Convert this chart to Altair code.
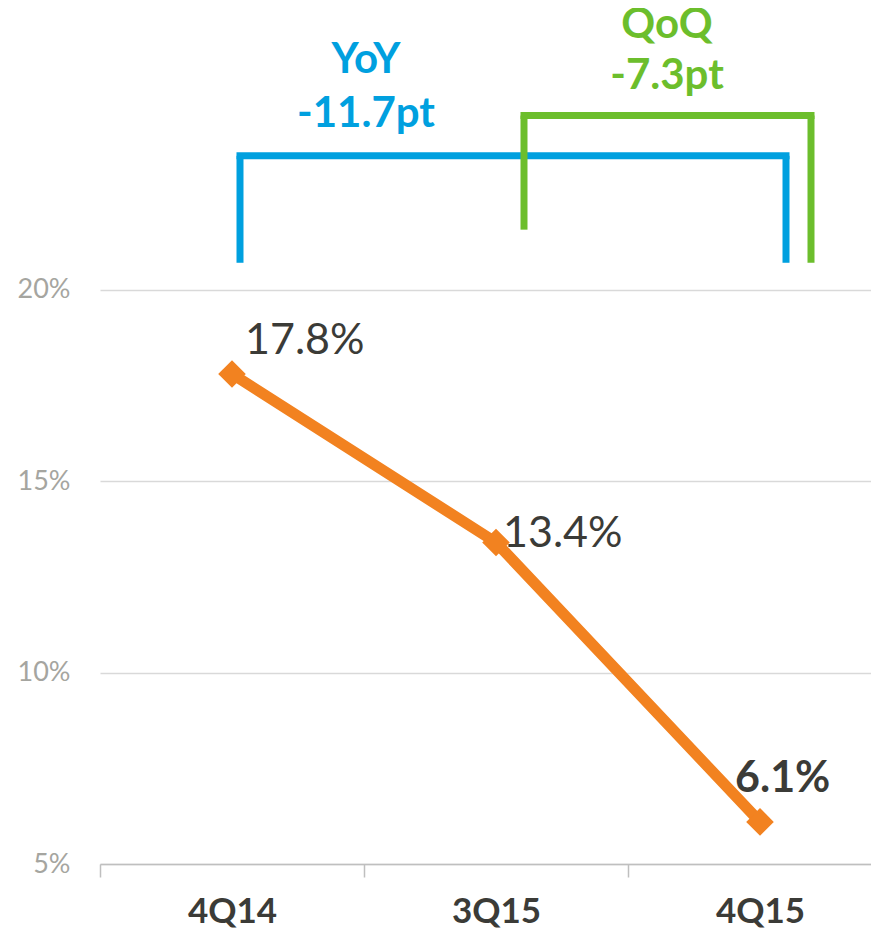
import altair as alt
import pandas as pd

# ---- data ----
quarters = ["4Q14", "3Q15", "4Q15"]
margin_pct = [17.8, 13.4, 6.1]
y_ticks = [5, 10, 15, 20]
compare_labels = ["YoY", "QoQ"]
compare_from = ["4Q14", "3Q15"]
compare_to = ["4Q15", "4Q15"]

df = pd.DataFrame({"q": quarters, "v": margin_pct})
df["label"] = [f"{v:.1f}%" for v in margin_pct]

last = margin_pct[-1]
deltas = [round(last - margin_pct[quarters.index(f)], 1) for f in compare_from]
br = pd.DataFrame({"name": compare_labels, "start": compare_from, "end": compare_to,
                   "delta": [f"{d:.1f}pt" for d in deltas]})

# ---- style ----
ORANGE = "#F28220"
BLUE = "#00A0DF"
GREEN = "#6CBE2C"
DARK = "#3B3B37"
GREYTXT = "#A5A5A0"
FONT = "Lato"

xscale = alt.Scale(type="band", domain=quarters, paddingInner=0, paddingOuter=0)
yscale = alt.Scale(domain=[5, 27.36], nice=False, zero=False)
xaxis = alt.Axis(title=None, tickBand="extent", domainColor="#BFBFBF", domainWidth=1.5,
                 tickColor="#BFBFBF", tickWidth=1.5, tickSize=13, labelFont=FONT,
                 labelFontWeight="bold", labelFontSize=35, labelColor=DARK,
                 labelPadding=17, grid=False, labelAngle=0)
yaxis = alt.Axis(title=None, values=y_ticks, labelExpr="datum.value + '%'", labelFont=FONT,
                 labelFontSize=27, labelColor=GREYTXT, labelPadding=30, domain=False,
                 ticks=False, grid=True, gridColor="#D9D9D9", gridWidth=1.5)


def X(field):
    return alt.X(field, scale=xscale, axis=xaxis, bandPosition=0.5)


def Y(field):
    return alt.Y(field, scale=yscale, axis=yaxis)


base = alt.Chart(df)
line = base.mark_line(color=ORANGE, strokeWidth=11).encode(x=X("q:N"), y=Y("v:Q"))
pts = base.mark_point(shape="diamond", filled=True, size=760, color=ORANGE, opacity=1).encode(
    x=X("q:N"), y=Y("v:Q"))


def label(q, dx, dy, weight):
    return base.transform_filter(alt.datum.q == q).mark_text(
        align="left", baseline="alphabetic", dx=dx, dy=dy, font=FONT, fontSize=43,
        fontWeight=weight, color=DARK).encode(x=X("q:N"), y=Y("v:Q"), text="label:N")


labels = [label("4Q14", 13, -20, "normal"), label("3Q15", 7, 5, "normal"),
          label("4Q15", -25, -30, "bold")]


def bracket(name, color, off_l, off_r, top, bot_l, bot_r, txt_dx, y_name, y_delta):
    b = alt.Chart(br).transform_filter(alt.datum.name == name)
    sw = 7
    left = b.mark_rule(color=color, strokeWidth=sw, xOffset=off_l, strokeCap="butt").encode(
        x=X("start:N"), y=alt.datum(bot_l), y2=alt.datum(top))
    right = b.mark_rule(color=color, strokeWidth=sw, xOffset=off_r, strokeCap="butt").encode(
        x=X("end:N"), y=alt.datum(bot_r), y2=alt.datum(top))
    horiz = b.mark_rule(color=color, strokeWidth=sw, xOffset=off_l, x2Offset=off_r,
                        strokeCap="square").encode(
        x=X("start:N"), x2=alt.X2("end:N"), y=alt.datum(top))
    t1 = b.mark_text(align="center", baseline="alphabetic", dx=txt_dx, font=FONT, fontSize=42,
                     fontWeight="bold", color=color).encode(
        x=X("start:N"), y=alt.datum(y_name), text="name:N")
    t2 = b.mark_text(align="center", baseline="alphabetic", dx=txt_dx, font=FONT, fontSize=42,
                     fontWeight="bold", color=color).encode(
        x=X("start:N"), y=alt.datum(y_delta), text="delta:N")
    return [left, right, horiz, t1, t2]


brackets = (bracket("YoY", BLUE, 8, 26, 23.50, 20.705, 20.705, 134, 25.66, 24.25)
            + bracket("QoQ", GREEN, 28, 51, 24.55, 21.57, 20.705, 171, 26.58, 25.25))

chart = alt.layer(line, pts, *labels, *brackets).properties(
    width=792, height=856,
    autosize=alt.AutoSizeParams(type="none"),
    padding={"left": 92, "right": -21, "top": 0, "bottom": 67},
).configure_view(stroke=None)

chart.save("out.html", embed_options={"renderer": "svg", "actions": False})
